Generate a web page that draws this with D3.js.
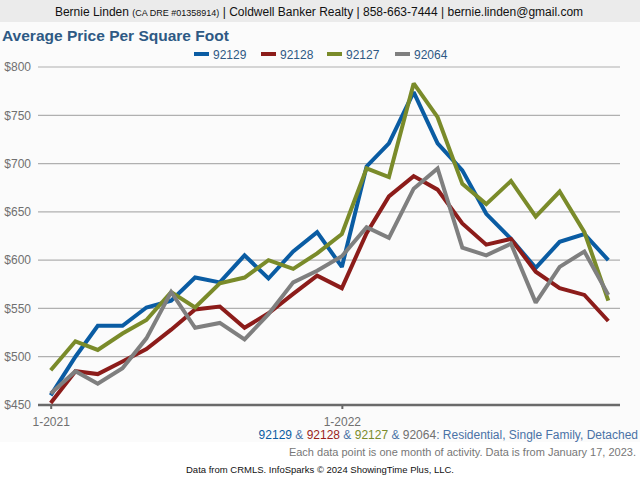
<!DOCTYPE html>
<html><head><meta charset="utf-8">
<script src="https://cdn.jsdelivr.net/npm/d3@7/dist/d3.min.js"></script>
<style>body{margin:0;background:#fff}svg{display:block;font-family:Arial,"Liberation Sans",sans-serif}</style>
</head><body>
<script>
const months = d3.range(24).map(i => new Date(2021, i, 1));
const tickLabels = ["1-2021", "1-2022"];
const yTicks = [450, 500, 550, 600, 650, 700, 750, 800];
const seriesNames = ["92129", "92128", "92127", "92064"];
const seriesColors = ["#0a5ca3", "#8c1c1a", "#7a8b2a", "#7f7f7f"];
const v92129 = [460, 500, 532, 532, 551, 558, 582, 577, 605, 581, 609, 629, 593, 697, 721, 774, 721, 693, 648, 622, 592, 619, 627, 600];
const v92128 = [452, 485, 482, 495, 508, 528, 549, 552, 530, 545, 565, 584, 571, 628, 666, 687, 673, 638, 616, 622, 588, 571, 564, 537];
const v92127 = [486, 516, 507, 524, 538, 567, 551, 576, 582, 600, 591, 607, 627, 695, 686, 783, 748, 679, 658, 682, 645, 671, 629, 558];
const v92064 = [462, 485, 472, 488, 519, 567, 530, 535, 518, 544, 577, 589, 604, 634, 623, 674, 695, 613, 605, 617, 556, 593, 609, 564];
const allSeries = [v92129, v92128, v92127, v92064];

const W = 640, H = 480;
const svg = d3.select("body").append("svg").attr("width", W).attr("height", H);

// backgrounds
svg.append("rect").attr("x",0).attr("y",22).attr("width",W).attr("height",420).attr("fill","#fbfbfb");
svg.append("rect").attr("x",0).attr("y",0).attr("width",W).attr("height",22).attr("fill","#ebebeb");

// header
const hdr = svg.append("text").attr("x",319).attr("y",15.5).attr("text-anchor","middle").attr("fill","#111").attr("font-size",12);
hdr.append("tspan").text("Bernie Linden ");
hdr.append("tspan").attr("font-size",9).text("(CA DRE #01358914)");
hdr.append("tspan").text(" | Coldwell Banker Realty | 858-663-7444 | bernie.linden@gmail.com");

// title
svg.append("text").attr("x",2).attr("y",41).attr("font-size",15.5).attr("font-weight","bold").attr("fill","#2e5984").text("Average Price Per Square Foot");

// scales
const x = d3.scaleTime().domain([new Date(2021,0,1), new Date(2022,11,1)]).range([50.7, 608.3]);
const y = d3.scaleLinear().domain([450, 800]).range([405, 67]);

// grid
svg.append("g").selectAll("line").data(yTicks.slice(1)).join("line")
  .attr("x1",38).attr("x2",620).attr("y1",d=>y(d)).attr("y2",d=>y(d))
  .attr("stroke","#b0b0b0").attr("stroke-width",1.2);

// y labels
const yAxis = d3.axisLeft(y).tickValues(yTicks).tickFormat(d=>"$"+d).tickSize(0).tickPadding(0);
const gy = svg.append("g").attr("transform","translate(31,0)").call(yAxis);
gy.select(".domain").remove();
gy.selectAll("text").attr("font-size",12).attr("fill","#707070").attr("font-family","Arial, 'Liberation Sans', sans-serif");

// x axis
const xAxis = d3.axisBottom(x).tickValues([new Date(2021,0,1), new Date(2022,0,1)])
  .tickFormat((d,i)=>tickLabels[i]).tickSize(4).tickPadding(8);
const gx = svg.append("g").attr("transform","translate(0,405)").call(xAxis);
gx.select(".domain").remove();
gx.selectAll("line").attr("stroke","#666").attr("stroke-width",2);
gx.selectAll("text").attr("font-size",12).attr("fill","#707070").attr("font-family","Arial, 'Liberation Sans', sans-serif");
svg.append("line").attr("x1",38).attr("x2",620).attr("y1",405).attr("y2",405).attr("stroke","#6a6a6a").attr("stroke-width",2.5);

// lines
const line = d3.line().x((d,i)=>x(months[i])).y(d=>y(d));
allSeries.forEach((s,k)=>{
  svg.append("path").datum(s).attr("d",line).attr("fill","none")
    .attr("stroke",seriesColors[k]).attr("stroke-width",4).attr("stroke-linejoin","miter").attr("stroke-miterlimit",2);
});

// legend
const legX = [194, 261, 327, 395];
const leg = svg.append("g");
seriesNames.forEach((n,k)=>{
  leg.append("rect").attr("x",legX[k]).attr("y",52).attr("width",15).attr("height",4).attr("fill",seriesColors[k]);
  leg.append("text").attr("x",legX[k]+19).attr("y",58.5).attr("font-size",12).attr("fill","#2e5984").text(n);
});

// footers
const f1 = svg.append("text").attr("x",638).attr("y",439).attr("text-anchor","end").attr("font-size",12);
const parts = [["92129","#0a5ca3"],[" & ","#4a72a6"],["92128","#9a1f1c"],[" & ","#4a72a6"],["92127","#7a8b2a"],[" & ","#4a72a6"],["92064","#707070"],[": Residential, Single Family, Detached","#4a72a6"]];
parts.forEach(p=>f1.append("tspan").attr("fill",p[1]).text(p[0]));
svg.append("text").attr("x",636).attr("y",456).attr("text-anchor","end").attr("font-size",11).attr("fill","#777").text("Each data point is one month of activity. Data is from January 17, 2023.");
svg.append("text").attr("x",320).attr("y",473).attr("text-anchor","middle").attr("font-size",9.5).attr("fill","#111").text("Data from CRMLS. InfoSparks © 2024 ShowingTime Plus, LLC.");
</script>
</body></html>
